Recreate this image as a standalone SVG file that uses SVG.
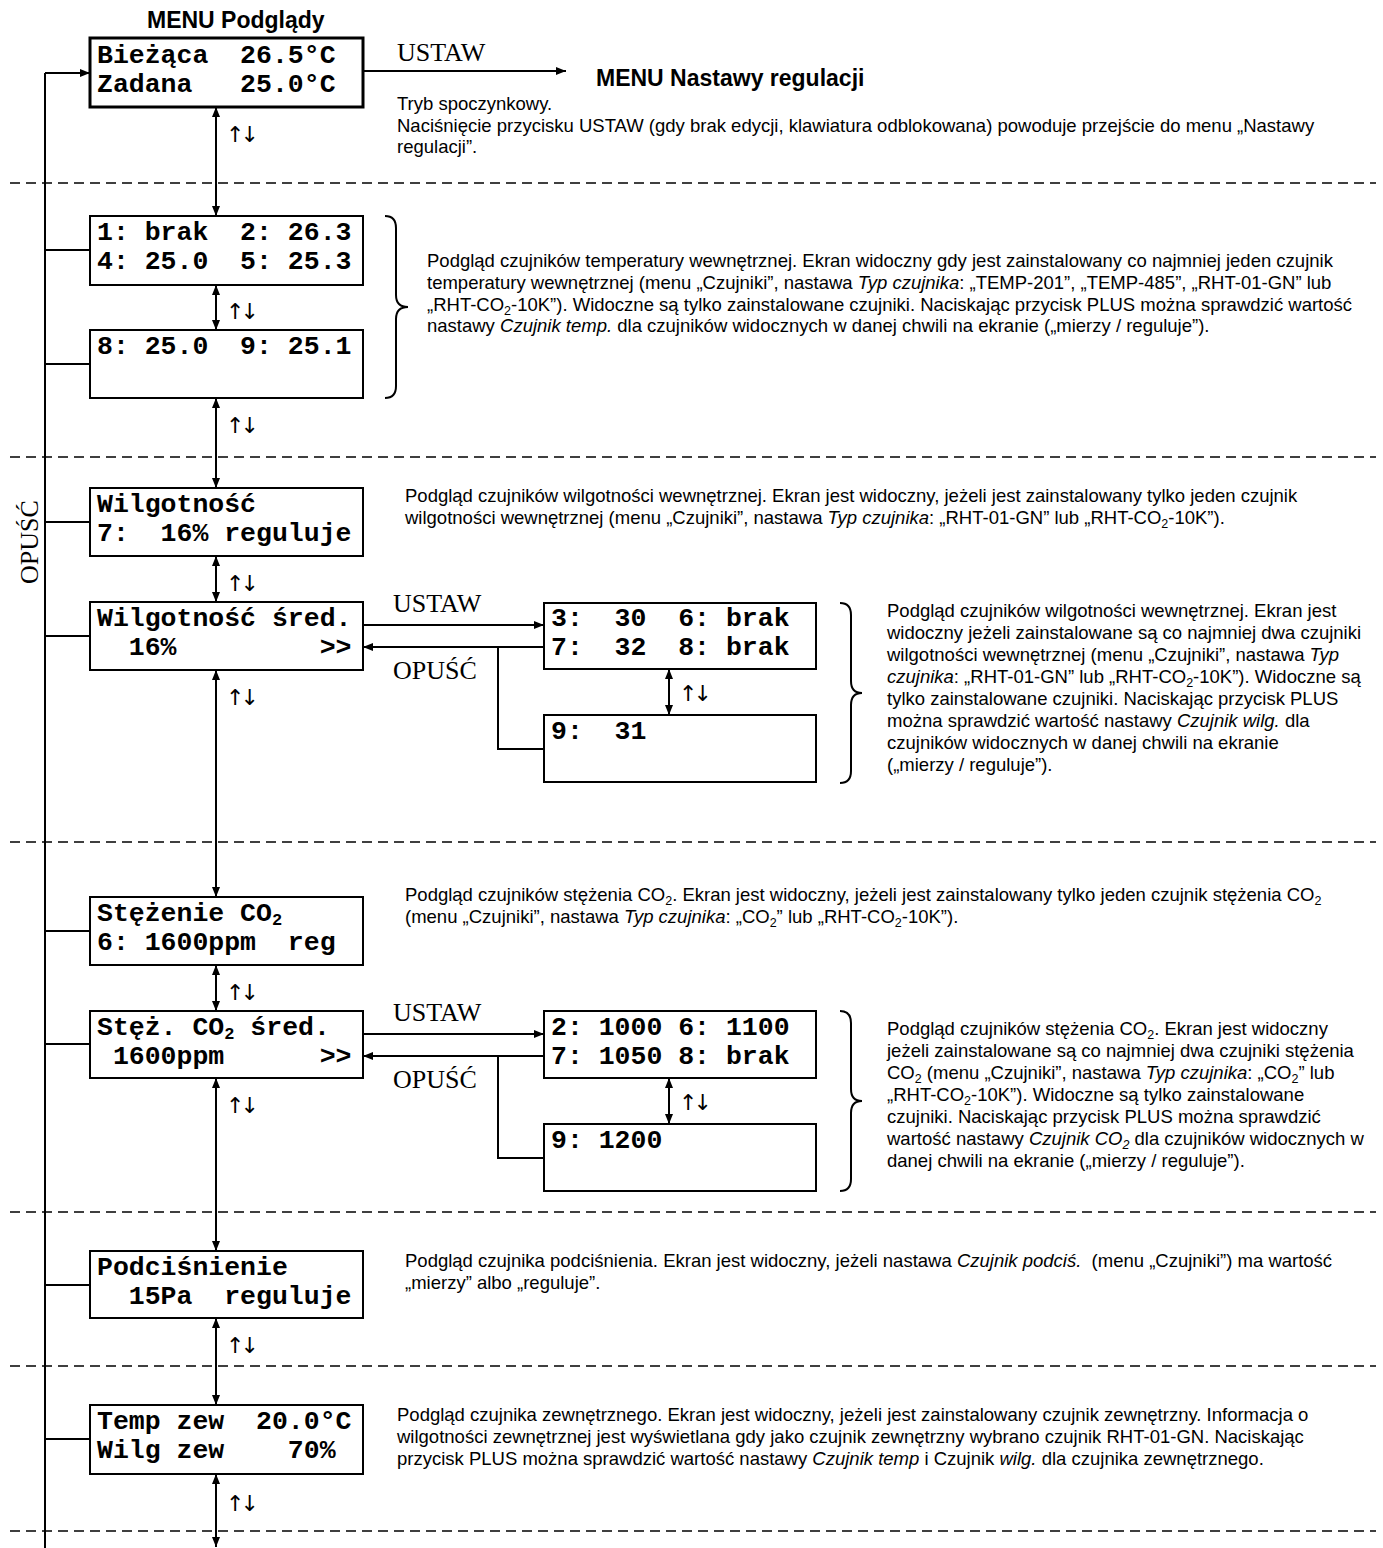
<svg xmlns="http://www.w3.org/2000/svg" width="1383" height="1548" viewBox="0 0 1383 1548" xml:space="preserve">
<style>
.bg{fill:#fff}
.box{fill:#fff;stroke:#000;stroke-width:2}
.box1{fill:#fff;stroke:#000;stroke-width:3}
.ln{fill:none;stroke:#000;stroke-width:2}
.dash{fill:none;stroke:#000;stroke-width:1.5;stroke-dasharray:10 6}
.mono{font-family:"Liberation Mono","Courier New",monospace;font-weight:bold;font-size:26.5px;fill:#000;white-space:pre}
.msub{font-size:17px}
.body{font-family:"Liberation Sans",Arial,sans-serif;font-size:18.5px;fill:#000;white-space:pre}
.it{font-style:italic}
.sub{font-size:12.5px}
.hdr{font-family:"Liberation Sans",Arial,sans-serif;font-weight:bold;font-size:23px;fill:#000}
.key{font-family:"Liberation Serif","Times New Roman",serif;font-size:26px;fill:#000}
.ud{font-family:"DejaVu Sans",sans-serif;font-size:22px;letter-spacing:-4px;fill:#000}
</style>
<defs>
<marker id="ah" viewBox="0 0 10 10" refX="10" refY="5" markerWidth="10" markerHeight="10" markerUnits="userSpaceOnUse" orient="auto-start-reverse"><path d="M0,1 L10,5 L0,9 z" fill="#000"/></marker>
</defs>
<rect class="bg" x="0" y="0" width="1383" height="1548"/>

<g id="separators">
<line class="dash" x1="10" y1="183" x2="1376" y2="183"/>
<line class="dash" x1="10" y1="457" x2="1376" y2="457"/>
<line class="dash" x1="10" y1="842" x2="1376" y2="842"/>
<line class="dash" x1="10" y1="1212" x2="1376" y2="1212"/>
<line class="dash" x1="10" y1="1366" x2="1376" y2="1366"/>
<line class="dash" x1="10" y1="1531" x2="1376" y2="1531"/>
</g>

<g id="connectors">
<line class="ln" x1="45" y1="73" x2="45" y2="1548"/>
<line class="ln" x1="45" y1="73" x2="90" y2="73" marker-end="url(#ah)"/>
<line class="ln" x1="45" y1="250" x2="90" y2="250"/>
<line class="ln" x1="45" y1="364" x2="90" y2="364"/>
<line class="ln" x1="45" y1="522" x2="90" y2="522"/>
<line class="ln" x1="45" y1="636" x2="90" y2="636"/>
<line class="ln" x1="45" y1="931" x2="90" y2="931"/>
<line class="ln" x1="45" y1="1044" x2="90" y2="1044"/>
<line class="ln" x1="45" y1="1285" x2="90" y2="1285"/>
<line class="ln" x1="45" y1="1439" x2="90" y2="1439"/>
<line class="ln" x1="363" y1="71" x2="566" y2="71" marker-end="url(#ah)"/>
<line class="ln" x1="216" y1="107" x2="216" y2="216" marker-start="url(#ah)" marker-end="url(#ah)"/>
<line class="ln" x1="216" y1="285" x2="216" y2="330" marker-start="url(#ah)" marker-end="url(#ah)"/>
<line class="ln" x1="216" y1="398" x2="216" y2="488" marker-start="url(#ah)" marker-end="url(#ah)"/>
<line class="ln" x1="216" y1="556" x2="216" y2="602" marker-start="url(#ah)" marker-end="url(#ah)"/>
<line class="ln" x1="216" y1="670" x2="216" y2="897" marker-start="url(#ah)" marker-end="url(#ah)"/>
<line class="ln" x1="216" y1="965" x2="216" y2="1011" marker-start="url(#ah)" marker-end="url(#ah)"/>
<line class="ln" x1="216" y1="1078" x2="216" y2="1251" marker-start="url(#ah)" marker-end="url(#ah)"/>
<line class="ln" x1="216" y1="1318" x2="216" y2="1405" marker-start="url(#ah)" marker-end="url(#ah)"/>
<line class="ln" x1="216" y1="1474" x2="216" y2="1547" marker-start="url(#ah)" marker-end="url(#ah)"/>
<line class="ln" x1="363" y1="625" x2="544" y2="625" marker-end="url(#ah)"/>
<line class="ln" x1="544" y1="647" x2="363" y2="647" marker-end="url(#ah)"/>
<polyline class="ln" points="498,647 498,749 544,749"/>
<line class="ln" x1="669" y1="669" x2="669" y2="715" marker-start="url(#ah)" marker-end="url(#ah)"/>
<line class="ln" x1="363" y1="1034" x2="544" y2="1034" marker-end="url(#ah)"/>
<line class="ln" x1="544" y1="1056" x2="363" y2="1056" marker-end="url(#ah)"/>
<polyline class="ln" points="498,1056 498,1158 544,1158"/>
<line class="ln" x1="669" y1="1078" x2="669" y2="1124" marker-start="url(#ah)" marker-end="url(#ah)"/>
<path class="ln" d="M385,216 Q396,216 396,228 L396,295 Q396,307 408,307 Q396,307 396,319 L396,386 Q396,398 385,398"/>
<path class="ln" d="M840,603 Q851,603 851,615 L851,681 Q851,693 862,693 Q851,693 851,705 L851,771 Q851,783 840,783"/>
<path class="ln" d="M840,1011 Q851,1011 851,1023 L851,1089 Q851,1101 862,1101 Q851,1101 851,1113 L851,1179 Q851,1191 840,1191"/>
</g>

<g id="labels">
<text class="hdr" x="147" y="28">MENU Podglądy</text>
<text class="hdr" x="596" y="86">MENU Nastawy regulacji</text>
<text class="key" x="397" y="61">USTAW</text>
<text class="key" x="393" y="612">USTAW</text>
<text class="key" x="393" y="679">OPUŚĆ</text>
<text class="key" x="393" y="1021">USTAW</text>
<text class="key" x="393" y="1088">OPUŚĆ</text>
<text class="key" transform="translate(38,542) rotate(-90)" text-anchor="middle">OPUŚĆ</text>
<text class="ud" x="226" y="142">↑↓</text>
<text class="ud" x="226" y="319">↑↓</text>
<text class="ud" x="226" y="433">↑↓</text>
<text class="ud" x="226" y="591">↑↓</text>
<text class="ud" x="226" y="705">↑↓</text>
<text class="ud" x="226" y="1000">↑↓</text>
<text class="ud" x="226" y="1113">↑↓</text>
<text class="ud" x="226" y="1353">↑↓</text>
<text class="ud" x="226" y="1511">↑↓</text>
<text class="ud" x="679" y="701">↑↓</text>
<text class="ud" x="679" y="1110">↑↓</text>
</g>

<g id="n-biezaca">
<rect class="box1" x="90" y="38" width="273" height="69"/>
<text class="mono" x="97" y="63">Bieżąca  26.5°C</text>
<text class="mono" x="97" y="92">Zadana   25.0°C</text>
</g>
<g id="n-temp1">
<rect class="box" x="90" y="216" width="273" height="69"/>
<text class="mono" x="97" y="240">1: brak  2: 26.3</text>
<text class="mono" x="97" y="269">4: 25.0  5: 25.3</text>
</g>
<g id="n-temp2">
<rect class="box" x="90" y="330" width="273" height="68"/>
<text class="mono" x="97" y="354">8: 25.0  9: 25.1</text>
</g>
<g id="n-wilg">
<rect class="box" x="90" y="488" width="273" height="68"/>
<text class="mono" x="97" y="512">Wilgotność</text>
<text class="mono" x="97" y="541">7:  16% reguluje</text>
</g>
<g id="n-wilg-sred">
<rect class="box" x="90" y="602" width="273" height="68"/>
<text class="mono" x="97" y="626">Wilgotność śred.</text>
<text class="mono" x="97" y="655">  16%         &gt;&gt;</text>
</g>
<g id="n-wilg-a">
<rect class="box" x="544" y="603" width="272" height="66"/>
<text class="mono" x="551" y="626">3:  30  6: brak</text>
<text class="mono" x="551" y="655">7:  32  8: brak</text>
</g>
<g id="n-wilg-b">
<rect class="box" x="544" y="715" width="272" height="67"/>
<text class="mono" x="551" y="739">9:  31</text>
</g>
<g id="n-co2">
<rect class="box" x="90" y="897" width="273" height="68"/>
<text class="mono" x="97" y="921">Stężenie CO<tspan class="msub" baseline-shift="-4">2</tspan></text>
<text class="mono" x="97" y="950">6: 1600ppm  reg</text>
</g>
<g id="n-co2-sred">
<rect class="box" x="90" y="1011" width="273" height="67"/>
<text class="mono" x="97" y="1035">Stęż. CO<tspan class="msub" baseline-shift="-4">2</tspan> śred.</text>
<text class="mono" x="97" y="1064"> 1600ppm      &gt;&gt;</text>
</g>
<g id="n-co2-a">
<rect class="box" x="544" y="1011" width="272" height="67"/>
<text class="mono" x="551" y="1035">2: 1000 6: 1100</text>
<text class="mono" x="551" y="1064">7: 1050 8: brak</text>
</g>
<g id="n-co2-b">
<rect class="box" x="544" y="1124" width="272" height="67"/>
<text class="mono" x="551" y="1148">9: 1200</text>
</g>
<g id="n-podcis">
<rect class="box" x="90" y="1251" width="273" height="67"/>
<text class="mono" x="97" y="1275">Podciśnienie</text>
<text class="mono" x="97" y="1304">  15Pa  reguluje</text>
</g>
<g id="n-zew">
<rect class="box" x="90" y="1405" width="273" height="69"/>
<text class="mono" x="97" y="1429">Temp zew  20.0°C</text>
<text class="mono" x="97" y="1458">Wilg zew    70%</text>
</g>

<g id="descriptions">
<text class="body" x="397" y="110">Tryb spoczynkowy.</text>
<text class="body" x="397" y="132">Naciśnięcie przycisku USTAW (gdy brak edycji, klawiatura odblokowana) powoduje przejście do menu „Nastawy</text>
<text class="body" x="397" y="153">regulacji”.</text>

<text class="body" x="427" y="267">Podgląd czujników temperatury wewnętrznej. Ekran widoczny gdy jest zainstalowany co najmniej jeden czujnik</text>
<text class="body" x="427" y="289">temperatury wewnętrznej (menu „Czujniki”, nastawa <tspan class="it">Typ czujnika</tspan>: „TEMP-201”, „TEMP-485”, „RHT-01-GN” lub</text>
<text class="body" x="427" y="311">„RHT-CO<tspan class="sub" baseline-shift="-4">2</tspan>-10K”). Widoczne są tylko zainstalowane czujniki. Naciskając przycisk PLUS można sprawdzić wartość</text>
<text class="body" x="427" y="332">nastawy <tspan class="it">Czujnik temp.</tspan> dla czujników widocznych w danej chwili na ekranie („mierzy / reguluje”).</text>

<text class="body" x="405" y="502">Podgląd czujników wilgotności wewnętrznej. Ekran jest widoczny, jeżeli jest zainstalowany tylko jeden czujnik</text>
<text class="body" x="405" y="524">wilgotności wewnętrznej (menu „Czujniki”, nastawa <tspan class="it">Typ czujnika</tspan>: „RHT-01-GN” lub „RHT-CO<tspan class="sub" baseline-shift="-4">2</tspan>-10K”).</text>

<text class="body" x="887" y="617">Podgląd czujników wilgotności wewnętrznej. Ekran jest</text>
<text class="body" x="887" y="639">widoczny jeżeli zainstalowane są co najmniej dwa czujniki</text>
<text class="body" x="887" y="661">wilgotności wewnętrznej (menu „Czujniki”, nastawa <tspan class="it">Typ</tspan></text>
<text class="body" x="887" y="683"><tspan class="it">czujnika</tspan>: „RHT-01-GN” lub „RHT-CO<tspan class="sub" baseline-shift="-4">2</tspan>-10K”). Widoczne są</text>
<text class="body" x="887" y="705">tylko zainstalowane czujniki. Naciskając przycisk PLUS</text>
<text class="body" x="887" y="727">można sprawdzić wartość nastawy <tspan class="it">Czujnik wilg.</tspan> dla</text>
<text class="body" x="887" y="749">czujników widocznych w danej chwili na ekranie</text>
<text class="body" x="887" y="771">(„mierzy / reguluje”).</text>

<text class="body" x="405" y="901">Podgląd czujników stężenia CO<tspan class="sub" baseline-shift="-4">2</tspan>. Ekran jest widoczny, jeżeli jest zainstalowany tylko jeden czujnik stężenia CO<tspan class="sub" baseline-shift="-4">2</tspan></text>
<text class="body" x="405" y="923">(menu „Czujniki”, nastawa <tspan class="it">Typ czujnika</tspan>: „CO<tspan class="sub" baseline-shift="-4">2</tspan>” lub „RHT-CO<tspan class="sub" baseline-shift="-4">2</tspan>-10K”).</text>

<text class="body" x="887" y="1035">Podgląd czujników stężenia CO<tspan class="sub" baseline-shift="-4">2</tspan>. Ekran jest widoczny</text>
<text class="body" x="887" y="1057">jeżeli zainstalowane są co najmniej dwa czujniki stężenia</text>
<text class="body" x="887" y="1079">CO<tspan class="sub" baseline-shift="-4">2</tspan> (menu „Czujniki”, nastawa <tspan class="it">Typ czujnika</tspan>: „CO<tspan class="sub" baseline-shift="-4">2</tspan>” lub</text>
<text class="body" x="887" y="1101">„RHT-CO<tspan class="sub" baseline-shift="-4">2</tspan>-10K”). Widoczne są tylko zainstalowane</text>
<text class="body" x="887" y="1123">czujniki. Naciskając przycisk PLUS można sprawdzić</text>
<text class="body" x="887" y="1145">wartość nastawy <tspan class="it">Czujnik CO<tspan class="sub" baseline-shift="-4">2</tspan></tspan> dla czujników widocznych w</text>
<text class="body" x="887" y="1167">danej chwili na ekranie („mierzy / reguluje”).</text>

<text class="body" x="405" y="1267">Podgląd czujnika podciśnienia. Ekran jest widoczny, jeżeli nastawa <tspan class="it">Czujnik podciś.</tspan>  (menu „Czujniki”) ma wartość</text>
<text class="body" x="405" y="1289">„mierzy” albo „reguluje”.</text>

<text class="body" x="397" y="1421">Podgląd czujnika zewnętrznego. Ekran jest widoczny, jeżeli jest zainstalowany czujnik zewnętrzny. Informacja o</text>
<text class="body" x="397" y="1443">wilgotności zewnętrznej jest wyświetlana gdy jako czujnik zewnętrzny wybrano czujnik RHT-01-GN. Naciskając</text>
<text class="body" x="397" y="1465">przycisk PLUS można sprawdzić wartość nastawy <tspan class="it">Czujnik temp</tspan> i Czujnik <tspan class="it">wilg.</tspan> dla czujnika zewnętrznego.</text>
</g>
</svg>
